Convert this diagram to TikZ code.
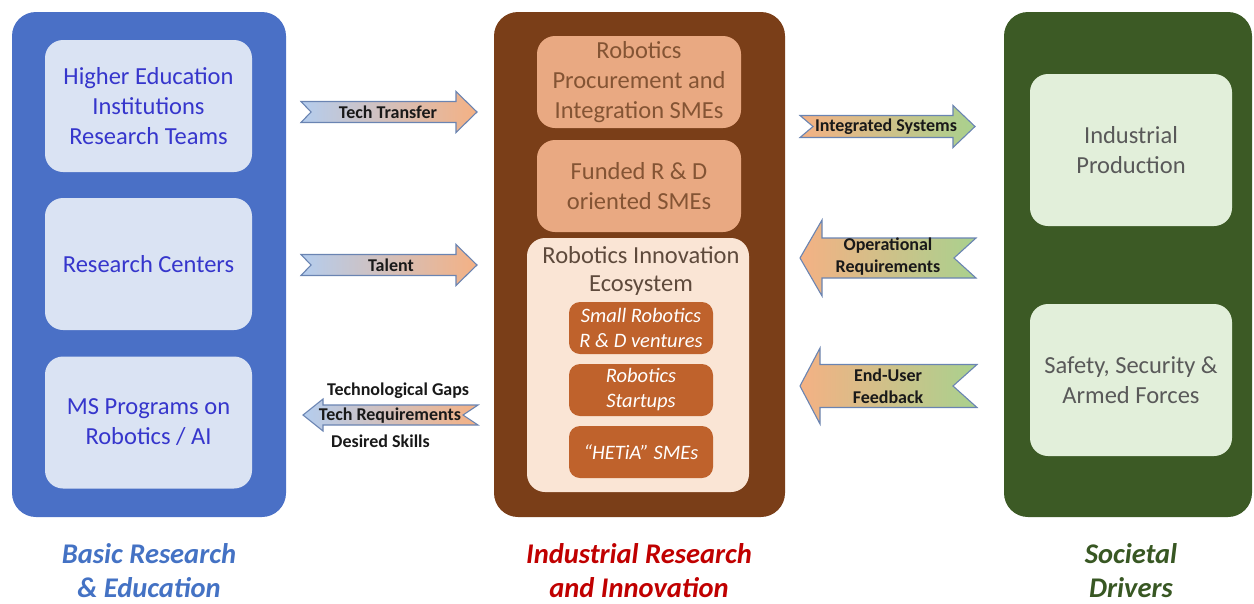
\documentclass[tikz,border=0pt]{standalone}
\usepackage{fontspec}
\setmainfont{Carlito}
\definecolor{bluepanel}{HTML}{4A70C6}
\definecolor{bluebox}{HTML}{DAE3F3}
\definecolor{bluetext}{HTML}{3636CC}
\definecolor{brownpanel}{HTML}{7A3E18}
\definecolor{brownbox}{HTML}{E9A982}
\definecolor{browntext}{HTML}{845434}
\definecolor{ecobox}{HTML}{FAE5D5}
\definecolor{ecotext}{HTML}{5E4A3C}
\definecolor{ventbox}{HTML}{BF622C}
\definecolor{greenpanel}{HTML}{3C5A25}
\definecolor{greenbox}{HTML}{E2EFDA}
\definecolor{greentext}{HTML}{595959}
\definecolor{arrblue}{HTML}{B4CDEE}
\definecolor{arrorange}{HTML}{F4B184}
\definecolor{arrgreen}{HTML}{A9D18E}
\definecolor{arrline}{HTML}{6A84B2}
\definecolor{captblue}{HTML}{4472C4}
\definecolor{captred}{HTML}{C00000}
\definecolor{captgreen}{HTML}{385723}

% Notched block arrow: #1 style, #2 tail x, #3 tip x, #4 centre y,
% #5 half shaft, #6 half head, #7 head length, #8 notch depth, #9 direction (+1/-1)
\newcommand\notchedarrow[9]{%
  \shadedraw[#1] ({#2},{#4-#5}) -- ({#3-#9*#7},{#4-#5}) -- ({#3-#9*#7},{#4-#6})
    -- ({#3},{#4}) -- ({#3-#9*#7},{#4+#6}) -- ({#3-#9*#7},{#4+#5})
    -- ({#2},{#4+#5}) -- ({#2+#9*#8},{#4}) -- cycle;}

\begin{document}
\begin{tikzpicture}[x=1pt,y=-1pt,
  panel/.style={rounded corners=24pt, inner sep=0pt},
  box/.style={rounded corners=18pt, inner sep=0pt, align=center,
    font=\fontsize{24.5}{30}\selectfont},
  vent/.style={rounded corners=11pt, inner sep=0pt, align=center, fill=ventbox,
    text=white, minimum width=144pt, minimum height=52pt,
    font=\fontsize{20.5}{25}\selectfont\itshape},
  arrowlabel/.style={inner sep=0pt, align=center, text=black!90,
    font=\fontsize{18}{22}\selectfont\bfseries},
  caption/.style={inner sep=0pt, align=center,
    font=\fontsize{28.5}{34}\selectfont\bfseries\itshape},
  flow/.style={draw=arrline, line width=1.1pt}
]
\useasboundingbox (0,0) rectangle (1254,603);

% Basic research column
\node[panel, fill=bluepanel, minimum width=274pt, minimum height=505pt] (basic) at (149,264.5) {};
\node[box, fill=bluebox, text=bluetext, minimum width=207pt, minimum height=132pt] (hei) at (148.5,106) {Higher Education\\Institutions\\Research Teams};
\node[box, fill=bluebox, text=bluetext, minimum width=207pt, minimum height=132pt] (rc) at (148.5,264) {Research Centers};
\node[box, fill=bluebox, text=bluetext, minimum width=207pt, minimum height=132pt] (ms) at (148.5,422.5) {MS Programs on\\Robotics / AI};

% Industrial research column
\node[panel, fill=brownpanel, minimum width=291pt, minimum height=505pt] (ind) at (639.5,264.5) {};
\node[box, fill=brownbox, text=browntext, minimum width=204pt, minimum height=92pt] (proc) at (639,82) {Robotics\\Procurement and\\Integration SMEs};
\node[box, fill=brownbox, text=browntext, minimum width=204pt, minimum height=92pt] (fund) at (639,186) {Funded R \& D\\oriented SMEs};
\node[box, fill=ecobox, minimum width=222pt, minimum height=254pt] (eco) at (638,365) {};
\node[inner sep=0pt, align=center, text=ecotext, font=\fontsize{24.5}{28}\selectfont] (ecot) at (641,271) {Robotics Innovation\\Ecosystem};
\node[vent] (small) at (641,328) {Small Robotics\\R \& D ventures};
\node[vent] (start) at (641,390) {Robotics\\Startups};
\node[vent] (hetia) at (641,452) {“HETiA” SMEs};

% Societal drivers column
\node[panel, fill=greenpanel, minimum width=248pt, minimum height=505pt] (soc) at (1128,264.5) {};
\node[box, fill=greenbox, text=greentext, minimum width=202pt, minimum height=152pt] (prod) at (1131,150) {Industrial\\Production};
\node[box, fill=greenbox, text=greentext, minimum width=202pt, minimum height=152pt] (safe) at (1131,380) {Safety, Security \&\\Armed Forces};

% Flows between columns
\notchedarrow{flow, left color=arrblue, right color=arrorange}{301}{477}{112}{10.5}{20.5}{21}{10}{1}
\node[arrowlabel] (tt) at (388,112) {Tech Transfer};
\notchedarrow{flow, left color=arrblue, right color=arrorange}{301}{477}{265}{10.5}{20.5}{21}{10}{1}
\node[arrowlabel] (tal) at (391,265) {Talent};
\notchedarrow{flow, left color=arrblue, right color=arrorange}{478}{303}{415}{10}{16}{20}{15}{-1}
\node[arrowlabel] (treq) at (390,416) {Tech Requirements};
\node[arrowlabel, anchor=west] (gaps) at (327,391) {Technological Gaps};
\node[arrowlabel, anchor=west] (skills) at (331,441) {Desired Skills};

\notchedarrow{flow, left color=arrorange, right color=arrgreen}{800}{975}{126.5}{11}{21}{22}{13}{1}
\node[arrowlabel] (integ) at (886,126.5) {Integrated Systems};
\notchedarrow{flow, left color=arrorange, right color=arrgreen}{976}{800}{258}{20}{38}{22}{22}{-1}
\node[arrowlabel] (opreq) at (888,257) {Operational\\Requirements};
\notchedarrow{flow, left color=arrorange, right color=arrgreen}{977}{800}{386}{21.5}{38}{20}{24}{-1}
\node[arrowlabel] (feed) at (888,386) {End-User\\Feedback};

% Column captions
\node[caption, text=captblue] (capb) at (149,571) {Basic Research\\\& Education};
\node[caption, text=captred] (capi) at (639,571) {Industrial Research\\and Innovation};
\node[caption, text=captgreen] (caps) at (1131,571) {Societal\\Drivers};
\end{tikzpicture}
\end{document}
